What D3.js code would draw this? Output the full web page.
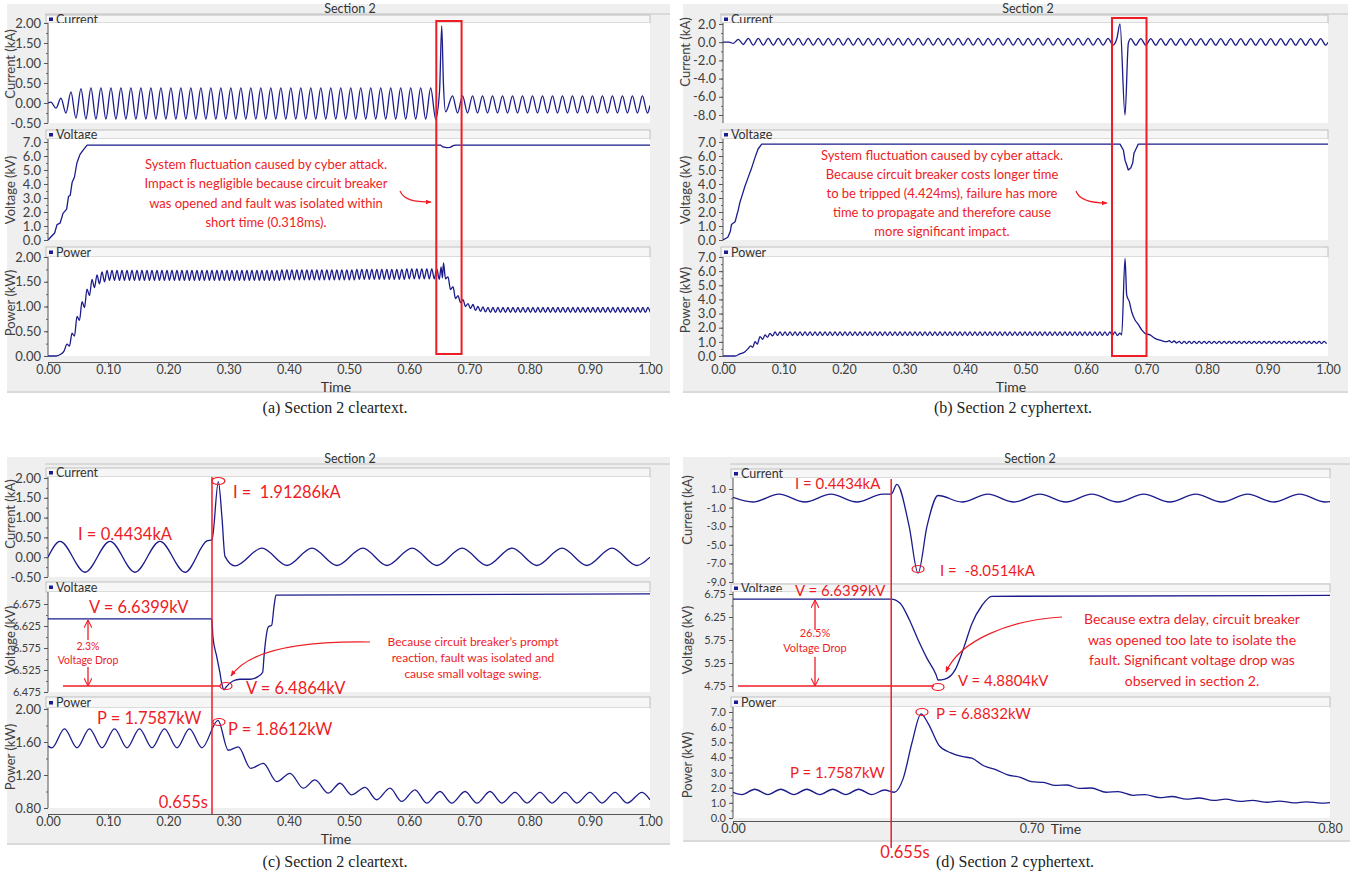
<!DOCTYPE html>
<html>
<head>
<meta charset="utf-8">
<script src="https://cdn.jsdelivr.net/npm/d3@7"></script>
<style>
body { margin: 0; background: #fff; }
text { font-family: Lato, 'Open Sans', sans-serif; white-space: pre; }
</style>
</head>
<body>
<script>
// ---------- data ----------
// (a) cleartext, time in s. Grid parts: [start, half-cycle step]
const aCurPreGrid = [0.0049, 0.0083];
const aCurPre = [0.02,-0.13,0.12,-0.25,0.28,-0.38,0.36,
  -0.40,0.38,-0.40,0.38,-0.40,0.38,-0.40,0.38,-0.40,0.38,
  -0.40,0.38,-0.40,0.38,-0.40,0.38,-0.40,0.38,-0.40,0.38,
  -0.40,0.38,-0.40,0.38,-0.40,0.38,-0.40,0.38,-0.40,0.38,
  -0.40,0.38,-0.40,0.38,-0.40,0.38,-0.40,0.38,-0.40,0.38,
  -0.40,0.38,-0.40,0.38,-0.40,0.38,-0.40,0.38,-0.40,0.38,
  -0.40,0.38,-0.40,0.38,-0.40,0.38,-0.40,0.38,-0.40,0.38,
  -0.40,0.38,-0.40,0.38,-0.40,0.38,-0.40,0.38,-0.40,0.38,
  -0.40];
const aCurFault = [[0.6505,0.32],[0.6540,1.93],[0.6568,0.50],[0.6605,-0.22]];
const aCurPostGrid = [0.6720, 0.0083];
const aCurPost = [
  0.18,-0.25,0.18,-0.25,0.18,-0.25,0.18,-0.25,0.18,-0.25,
  0.18,-0.25,0.18,-0.25,0.18,-0.25,0.18,-0.25,0.18,-0.25,
  0.18,-0.25,0.18,-0.25,0.18,-0.25,0.18,-0.25,0.18,-0.25,
  0.18,-0.25,0.18,-0.25,0.18,-0.25,0.18,-0.25,0.18,-0.25];
const aCurEnds = [[0, 0], [1.0, -0.06]];

const aVolt = [[0,0],[0.011,0.5],[0.015,1.1],[0.020,1.2],[0.025,1.9],[0.031,2.2],[0.034,3.1],
  [0.037,3.2],[0.040,4.1],[0.044,4.5],[0.048,5.5],[0.053,6.1],[0.058,6.4],[0.065,6.78],
  [0.652,6.78],[0.656,6.65],[0.662,6.60],[0.668,6.62],[0.673,6.74],[0.677,6.78],[1.0,6.78]];

const aPowRise = [[0,0],[0.0133,0.00],[0.0216,0.04],[0.0266,0.10],[0.0316,0.24],[0.0357,0.20],
  [0.0399,0.46],[0.0440,0.40],[0.0482,0.80],[0.0523,0.72],[0.0565,1.10],[0.0606,0.98],
  [0.0648,1.35],[0.0689,1.22],[0.0731,1.55],[0.0772,1.38],[0.0814,1.64],[0.0855,1.46],
  [0.0897,1.70],[0.0939,1.50]];
const aPowPreGrid = [0.0980, 0.00415];
const aPowPre = [
  1.73,1.53,1.73,1.53,1.73,1.53,1.73,1.53,1.73,1.53,
  1.73,1.53,1.73,1.53,1.73,1.53,1.73,1.53,1.73,1.53,
  1.73,1.53,1.73,1.53,1.73,1.53,1.73,1.53,1.73,1.53,
  1.73,1.53,1.73,1.53,1.73,1.53,1.73,1.53,1.73,1.53,
  1.73,1.53,1.73,1.53,1.73,1.53,1.73,1.53,1.73,1.53,
  1.73,1.53,1.73,1.53,1.73,1.53,1.73,1.53,1.73,1.53,
  1.73,1.53,1.73,1.53,1.73,1.53,1.73,1.53,1.73,1.53,
  1.74,1.54,1.74,1.54,1.74,1.54,1.74,1.54,1.74,1.54,
  1.74,1.54,1.74,1.54,1.74,1.54,1.74,1.54,1.74,1.54,
  1.74,1.54,1.74,1.54,1.74,1.54,1.74,1.54,1.74,1.54,
  1.75,1.55,1.75,1.55,1.75,1.55,1.75,1.55,1.75,1.55,
  1.75,1.55,1.75,1.55,1.75,1.55,1.75,1.55,1.75,1.55,
  1.76,1.56,1.76,1.56,1.76,1.56,1.76,1.56,1.76,1.56,
  1.76,1.56,1.76];
const aPowFault = [[0.6500,1.55],[0.6530,1.80],[0.6552,1.58],[0.6570,1.88],[0.6603,1.56],
  [0.6645,1.60],[0.6686,1.34],[0.6728,1.40],[0.6769,1.16],[0.6811,1.22],[0.6852,1.08],
  [0.6894,1.14],[0.6935,1.00],[0.6977,1.06]];
const aPowPostGrid = [0.7018, 0.00415];
const aPowPost = [0.96,1.04,0.92,1.00,0.90,0.99,0.89,
  0.98,0.88,0.98,0.88,0.98,0.88,0.98,0.88,0.98,0.88,
  0.98,0.88,0.98,0.88,0.98,0.88,0.98,0.88,0.98,0.88,
  0.98,0.88,0.98,0.88,0.98,0.88,0.98,0.88,0.98,0.88,
  0.98,0.88,0.98,0.88,0.98,0.88,0.98,0.88,0.98,0.88,
  0.98,0.88,0.98,0.88,0.98,0.88,0.98,0.88,0.98,0.88,
  0.98,0.88,0.98,0.88,0.98,0.88,0.98,0.88,0.98,0.88,
  0.98,0.88,0.98,0.88,0.98,0.88];

// (b) cyphertext
const bCurHead = [[0,0],[0.010,0.0]];
const bCurPreGrid = [0.0170, 0.00826];
const bCurPre = [-0.12,0.30,-0.25,0.42,
  -0.32,0.42,-0.32,0.42,-0.32,0.42,-0.32,0.42,-0.32,0.42,
  -0.32,0.42,-0.32,0.42,-0.32,0.42,-0.32,0.42,-0.32,0.42,
  -0.32,0.42,-0.32,0.42,-0.32,0.42,-0.32,0.42,-0.32,0.42,
  -0.32,0.42,-0.32,0.42,-0.32,0.42,-0.32,0.42,-0.32,0.42,
  -0.32,0.42,-0.32,0.42,-0.32,0.42,-0.32,0.42,-0.32,0.42,
  -0.32,0.42,-0.32,0.42,-0.32,0.42,-0.32,0.42,-0.32,0.42,
  -0.32,0.42,-0.32,0.42,-0.32,0.42,-0.32,0.42,-0.32,0.42,
  -0.32,0.42,
  -0.32];
const bCurFault = [[0.6510,0.40],[0.6562,2.0],[0.6645,-8.0],[0.6700,-0.1]];
const bCurPostGrid = [0.6740, 0.00826];
const bCurPost = [
  0.40,-0.32,0.40,-0.32,0.40,-0.32,0.40,-0.32,0.40,-0.32,
  0.40,-0.32,0.40,-0.32,0.40,-0.32,0.40,-0.32,0.40,-0.32,
  0.40,-0.32,0.40,-0.32,0.40,-0.32,0.40,-0.32,0.40,-0.32,
  0.40,-0.32,0.40,-0.32,0.40,-0.32,0.40,-0.32,0.40,-0.32];
const bCurTail = [[1.0, 0.0]];

const bVolt = [[0,0],[0.008,0.2],[0.012,0.6],[0.014,1.1],[0.020,1.3],[0.023,1.8],[0.025,2.1],
  [0.028,2.7],[0.031,3.1],[0.036,3.8],[0.041,4.4],[0.047,5.1],[0.053,5.9],[0.058,6.5],
  [0.064,6.85],[0.6562,6.85],[0.6617,6.43],[0.6645,5.7],[0.6673,5.36],[0.6699,5.0],
  [0.6739,5.14],[0.6772,5.5],[0.6793,6.2],[0.6826,6.5],[0.6864,6.85],[1.0,6.85]];

const bPowRise = [[0,0],[0.0198,0.0],[0.0281,0.15],[0.0364,0.30],[0.0418,0.54],[0.0458,0.71],
  [0.0491,0.61],[0.0529,1.01],[0.0567,0.85],[0.0612,1.37],[0.0656,1.18],[0.0694,1.49],
  [0.0736,1.32],[0.0777,1.60],[0.0818,1.42]];
const bPowPreGrid = [0.0860, 0.00413];
const bPowPre = [
  1.70,1.45,1.70,1.45,1.70,1.45,1.70,1.45,1.70,1.45,
  1.70,1.45,1.70,1.45,1.70,1.45,1.70,1.45,1.70,1.45,
  1.70,1.45,1.70,1.45,1.70,1.45,1.70,1.45,1.70,1.45,
  1.70,1.45,1.70,1.45,1.70,1.45,1.70,1.45,1.70,1.45,
  1.70,1.45,1.70,1.45,1.70,1.45,1.70,1.45,1.70,1.45,
  1.70,1.45,1.70,1.45,1.70,1.45,1.70,1.45,1.70,1.45,
  1.70,1.45,1.70,1.45,1.70,1.45,1.70,1.45,1.70,1.45,
  1.70,1.45,1.70,1.45,1.70,1.45,1.70,1.45,1.70,1.45,
  1.70,1.45,1.70,1.45,1.70,1.45,1.70,1.45,1.70,1.45,
  1.70,1.45,1.70,1.45,1.70,1.45,1.70,1.45,1.70,1.45,
  1.70,1.45,1.70,1.45,1.70,1.45,1.70,1.45,1.70,1.45,
  1.70,1.45,1.70,1.45,1.70,1.45,1.70,1.45,1.70,1.45,
  1.70,1.45,1.70,1.45,1.70,1.45,1.70,1.45,1.70,1.45,
  1.70,1.45,1.70,1.45,1.70,1.45,1.70,1.45];
const bPowFault = [[0.6560,1.62],[0.6590,1.50],[0.6645,6.90],[0.6673,4.30],[0.6716,3.84],
  [0.6755,3.13],[0.6810,2.55],[0.6864,2.24],[0.6921,1.84],[0.6975,1.60],[0.7058,1.49],
  [0.7140,1.25],[0.7240,1.10],[0.7333,1.01]];
const bPowPostGrid = [0.7375, 0.00413];
const bPowPost = [1.08,0.95,1.06,0.92,
  1.04,0.88,1.04,0.88,1.04,0.88,1.04,0.88,1.04,0.88,
  1.04,0.88,1.04,0.88,1.04,0.88,1.04,0.88,1.04,0.88,
  1.04,0.88,1.04,0.88,1.04,0.88,1.04,0.88,1.04,0.88,
  1.04,0.88,1.04,0.88,1.04,0.88,1.04,0.88,1.04,0.88,
  1.04,0.88,1.04,0.88,1.04,0.88,1.04,0.88,1.04,0.88,
  1.04,0.88,1.04,0.88,1.04,0.88,1.04,0.88,1.04,0.88];

// (c) cleartext zoom, x in axis units
const cCur = [[0,0.0],[0.0199,0.40],[0.0615,-0.38],[0.103,0.40],[0.1445,-0.38],[0.186,0.40],
  [0.2276,-0.38],[0.264,0.41],[0.2724,0.44],[0.283,1.91],[0.289,1.0],[0.294,0.02],
  [0.3106,-0.22],[0.3555,0.23],[0.397,-0.21],[0.4385,0.23],[0.480,-0.21],[0.523,0.23],
  [0.563,-0.21],[0.605,0.23],[0.646,-0.21],[0.688,0.23],[0.729,-0.21],[0.771,0.23],
  [0.812,-0.21],[0.854,0.23],[0.895,-0.21],[0.937,0.23],[0.978,-0.21],[1.0,0.0]];
const cVolt = [[0,6.641],[0.272,6.641],[0.274,6.60],[0.2802,6.556],[0.2857,6.518],[0.2885,6.495],
  [0.2924,6.48],[0.2957,6.486],[0.3073,6.50],[0.3189,6.504],[0.3355,6.504],[0.3488,6.51],
  [0.3566,6.52],[0.3588,6.555],[0.3616,6.593],[0.3660,6.623],[0.3716,6.627],[0.3754,6.669],
  [0.3787,6.695],[1.0,6.698]];
const cPow = [[0,1.55],[0.0066,1.53],[0.0274,1.76],[0.0482,1.53],[0.0689,1.76],[0.0897,1.53],
  [0.1105,1.76],[0.1312,1.53],[0.152,1.76],[0.1728,1.53],[0.1935,1.76],[0.2143,1.53],
  [0.2350,1.76],[0.2558,1.53],[0.2824,1.861],[0.2995,1.50],[0.3161,1.54],[0.3367,1.28],
  [0.3576,1.34],[0.3799,1.12],[0.4020,1.22],[0.4241,1.04],[0.4435,1.14],[0.4656,0.98],
  [0.4850,1.10],[0.5045,0.96],[0.5266,1.05],[0.5460,0.90],[0.5681,1.04],[0.5875,0.88],
  [0.6096,1.02],[0.6291,0.86],[0.6512,1.00],[0.6706,0.86],[0.6927,1.00],[0.7126,0.86],
  [0.7342,1.00],[0.7542,0.86],[0.7757,0.99],[0.7957,0.86],[0.8173,0.99],[0.8372,0.86],
  [0.8588,0.99],[0.8787,0.86],[0.9003,0.99],[0.9203,0.86],[0.9419,0.99],[0.9618,0.86],
  [0.9867,0.99],[1.0,0.90]];

// (d) cyphertext zoom, time in s
const dCur = [[0.600,0.10],[0.6067,-0.40],[0.6154,0.44],[0.6241,-0.40],[0.6328,0.44],
  [0.6415,-0.40],[0.6502,0.44],[0.6530,0.44],[0.6549,1.50],[0.6590,-3.0],[0.6620,-8.05],
  [0.6650,-3.0],[0.6687,0.30],[0.6767,-0.40],[0.6854,0.44],[0.6941,-0.40],[0.7028,0.44],
  [0.7115,-0.40],[0.7202,0.44],[0.7289,-0.40],[0.7376,0.44],[0.7463,-0.40],[0.7550,0.44],
  [0.7637,-0.40],[0.7724,0.44],[0.7811,-0.40],[0.7898,0.44],[0.7985,-0.40],[0.8000,-0.35]];
const dVolt = [[0.600,6.64],[0.653,6.64],[0.6560,6.55],[0.6590,6.2],[0.6617,5.8],[0.6650,5.35],
  [0.6680,5.0],[0.6687,4.88],[0.6710,4.9],[0.6744,5.1],[0.6774,5.6],[0.6800,6.1],
  [0.6834,6.5],[0.6867,6.70],[0.800,6.72]];
const dPow = [[0.600,1.70],[0.6030,1.55],[0.6073,1.90],[0.6117,1.55],[0.6160,1.90],
  [0.6204,1.55],[0.6247,1.90],[0.6291,1.55],[0.6334,1.90],[0.6378,1.55],[0.6421,1.90],
  [0.6465,1.55],[0.6508,1.85],[0.6540,1.70],[0.6570,2.6],[0.6600,5.0],[0.6630,6.88],
  [0.6655,6.2],[0.6690,4.8],[0.6730,4.3],[0.6770,4.05],[0.6800,3.95],[0.6840,3.45],
  [0.6880,3.20],[0.6920,2.85],[0.6960,2.70],[0.7000,2.40],[0.7040,2.35],[0.7080,2.15],
  [0.7120,2.18],[0.7160,1.95],[0.7200,1.98],[0.7250,1.70],[0.7290,1.74],[0.7340,1.50],
  [0.7380,1.55],[0.7430,1.35],[0.7470,1.42],[0.7520,1.25],[0.7560,1.32],[0.7610,1.16],
  [0.7650,1.24],[0.7700,1.10],[0.7740,1.17],[0.7790,1.04],[0.7830,1.12],[0.7880,1.00],
  [0.7920,1.07],[0.7970,0.98],[0.8000,1.02]];

// ticks
const xTicks01 = [0,0.1,0.2,0.3,0.4,0.5,0.6,0.7,0.8,0.9,1.0];
const dXTicks = [0.60, 0.70, 0.80];
const dXLabels = ['0.00', '0.70', '0.80'];
const curTicksA = [-0.5,0,0.5,1,1.5,2];
const voltTicksAB = [0,1,2,3,4,5,6,7];
const powTicksA = [0,0.5,1,1.5,2];
const curTicksB = [-8,-6,-4,-2,0,2];
const powTicksB = [0,1,2,3,4,5,6,7];
const voltTicksC = [6.475,6.525,6.575,6.625,6.675];
const powTicksC = [0.8,1.2,1.6,2.0];
const curTicksD = [-9,-7,-5,-3,-1,1];
const voltTicksD = [4.75,5.25,5.75,6.25,6.75];
const powTicksD = [0,1,2,3,4,5,6,7];

// ---------- helpers ----------
const grid = (g, vals) => vals.map((v, i) => [g[0] + i * g[1], v]);
const navy = '#1b1b8c', red = '#ee1c25', grey = '#404040';
const fmt = f => v => d3.format(f)(v).replace('\u2212', '-');

const aCurrent = [aCurEnds[0]].concat(grid(aCurPreGrid, aCurPre), aCurFault, grid(aCurPostGrid, aCurPost), [aCurEnds[1]]);
const aPower = aPowRise.concat(grid(aPowPreGrid, aPowPre), aPowFault, grid(aPowPostGrid, aPowPost));
const bCurrent = bCurHead.concat(grid(bCurPreGrid, bCurPre), bCurFault, grid(bCurPostGrid, bCurPost), bCurTail);
const bPower = bPowRise.concat(grid(bPowPreGrid, bPowPre), bPowFault, grid(bPowPostGrid, bPowPost));

const svg = d3.select('body').append('svg').attr('width', 1356).attr('height', 878);
svg.append('rect').attr('width', 1356).attr('height', 878).attr('fill', '#fff');
const defs = svg.append('defs');
defs.append('marker').attr('id', 'arrowFill').attr('viewBox', '0 0 10 10')
    .attr('refX', 9).attr('refY', 5).attr('markerWidth', 5).attr('markerHeight', 5)
    .attr('orient', 'auto')
  .append('path').attr('d', 'M0,1 L10,5 L0,9 z').attr('fill', red);
defs.append('marker').attr('id', 'arrowOpen').attr('viewBox', '0 0 10 10')
    .attr('refX', 10).attr('refY', 5).attr('markerWidth', 8).attr('markerHeight', 8)
    .attr('markerUnits', 'userSpaceOnUse').attr('orient', 'auto')
  .append('path').attr('d', 'M0,0 L10,5 L0,10').attr('fill', 'none')
    .attr('stroke', red).attr('stroke-width', 1.3);

const panels = [
  { id: 'a', box: [7, 4, 670, 393], titleX: 350, titleY: 14, x0: 48, x1: 650, xDomain: [0, 1],
    xTicks: xTicks01, xLabels: null, axisY: 362, timeX: 336, timeY: 392, yTitleX: 15,
    subs: [
      { name: 'Current', title: 'Current (kA)', head: 15, top: 23, bottom: 123, domain: [-0.5, 2], range: [123, 23], ticks: curTicksA, minor: 0.25, f: '.2f', fs: 13, titleY: 64, data: aCurrent, curve: d3.curveMonotoneX },
      { name: 'Voltage', title: 'Voltage (kV)', head: 130, top: 139, bottom: 240, domain: [0, 7], range: [240, 142], ticks: voltTicksAB, minor: 0.5, f: '.1f', fs: 13, titleY: 190, data: aVolt, curve: d3.curveLinear },
      { name: 'Power', title: 'Power (kW)', head: 247, top: 257, bottom: 356, domain: [0, 2], range: [356, 257], ticks: powTicksA, minor: 0.25, f: '.2f', fs: 13, titleY: 303, data: aPower, curve: d3.curveMonotoneX }
    ] },
  { id: 'b', box: [683, 4, 1348, 393], titleX: 1028, titleY: 14, x0: 723, x1: 1328, xDomain: [0, 1],
    xTicks: xTicks01, xLabels: null, axisY: 362, timeX: 1011, timeY: 392, yTitleX: 690,
    subs: [
      { name: 'Current', title: 'Current (kA)', head: 15, top: 23, bottom: 123, domain: [-8, 2], range: [115, 24], ticks: curTicksB, minor: 1, f: '.1f', fs: 13, titleY: 52, data: bCurrent, curve: d3.curveMonotoneX },
      { name: 'Voltage', title: 'Voltage (kV)', head: 130, top: 139, bottom: 240, domain: [0, 7], range: [240, 142], ticks: voltTicksAB, minor: 0.5, f: '.1f', fs: 13, titleY: 190, data: bVolt, curve: d3.curveLinear },
      { name: 'Power', title: 'Power (kW)', head: 247, top: 257, bottom: 356, domain: [0, 7], range: [356, 257], ticks: powTicksB, minor: 0.5, f: '.1f', fs: 13, titleY: 300, data: bPower, curve: d3.curveMonotoneX }
    ] },
  { id: 'c', box: [7, 457, 670, 845], titleX: 350, titleY: 464, x0: 48, x1: 650, xDomain: [0, 1],
    xTicks: xTicks01, xLabels: null, axisY: 814, timeX: 336, timeY: 844, yTitleX: 15,
    subs: [
      { name: 'Current', title: 'Current (kA)', head: 468, top: 477, bottom: 577, domain: [-0.5, 2], range: [577, 478], ticks: curTicksA, minor: 0.25, f: '.2f', fs: 13, titleY: 514, data: cCur, curve: d3.curveMonotoneX },
      { name: 'Voltage', title: 'Voltage (kV)', head: 582, top: 592, bottom: 692, domain: [6.475, 6.675], range: [692, 604], ticks: voltTicksC, minor: 0.025, f: '.3f', fs: 11, titleY: 640, data: cVolt, curve: d3.curveMonotoneX },
      { name: 'Power', title: 'Power (kW)', head: 697, top: 708, bottom: 808, domain: [0.8, 2.0], range: [808, 709], ticks: powTicksC, minor: 0.2, f: '.2f', fs: 13, titleY: 757, data: cPow, curve: d3.curveMonotoneX }
    ] },
  { id: 'd', box: [683, 457, 1350, 842], titleX: 1030, titleY: 464, x0: 733, x1: 1330, xDomain: [0.60, 0.80],
    xTicks: dXTicks, xLabels: dXLabels, axisY: 821, timeX: 1066, timeY: 834, yTitleX: 692,
    subs: [
      { name: 'Current', title: 'Current (kA)', head: 469, top: 478, bottom: 583, domain: [-9, 1], range: [582, 489], ticks: curTicksD, minor: 1, f: '.1f', fs: 11, titleY: 510, data: dCur, curve: d3.curveMonotoneX },
      { name: 'Voltage', title: 'Voltage (kV)', head: 584, top: 592, bottom: 692, domain: [4.75, 6.75], range: [686, 594], ticks: voltTicksD, minor: 0.25, f: '.2f', fs: 11, titleY: 640, data: dVolt, curve: d3.curveMonotoneX },
      { name: 'Power', title: 'Power (kW)', head: 697, top: 707, bottom: 818, domain: [0, 7], range: [818, 712], ticks: powTicksD, minor: 0.5, f: '.1f', fs: 11, titleY: 765, data: dPow, curve: d3.curveMonotoneX }
    ] }
];

const scales = {};

panels.forEach(p => {
  const g = svg.append('g').attr('id', 'panel-' + p.id);
  g.append('rect').attr('x', p.box[0]).attr('y', p.box[1])
    .attr('width', p.box[2] - p.box[0]).attr('height', p.box[3] - p.box[1])
    .attr('fill', '#efefef');
  g.append('line').attr('x1', p.x0 - 3).attr('x2', p.box[2]).attr('y1', p.titleY).attr('y2', p.titleY)
    .attr('stroke', '#c4c4c4');
  g.append('line').attr('x1', p.box[0]).attr('x2', p.box[2]).attr('y1', p.box[3] - 1).attr('y2', p.box[3] - 1)
    .attr('stroke', '#c4c4c4');
  g.append('text').attr('x', p.titleX).attr('y', p.titleY - 1).attr('text-anchor', 'middle')
    .attr('font-size', 12.5).attr('fill', '#333').text('Section 2');

  const x = d3.scaleLinear().domain(p.xDomain).range([p.x0, p.x1]);
  scales[p.id] = { x: x, y: [] };

  p.subs.forEach((s, i) => {
    const y = d3.scaleLinear().domain(s.domain).range(s.range);
    scales[p.id].y.push(y);
    // header bar
    g.append('rect').attr('x', p.x0 - 2).attr('y', s.head).attr('width', p.x1 - p.x0 + 2)
      .attr('height', s.top - s.head).attr('fill', '#f6f6f6').attr('stroke', '#b5b5b5').attr('stroke-width', 0.8);
    g.append('rect').attr('x', p.x0 + 1).attr('y', (s.head + s.top) / 2 - 1.5).attr('width', 4).attr('height', 3.5)
      .attr('fill', navy);
    g.append('text').attr('x', p.x0 + 8).attr('y', (s.head + s.top) / 2 + 4.5)
      .attr('font-size', 12.5).attr('fill', '#333').text(s.name);
    // plot area
    g.append('rect').attr('x', p.x0).attr('y', s.top).attr('width', p.x1 - p.x0)
      .attr('height', s.bottom - s.top).attr('fill', '#fff');
    g.append('line').attr('x1', p.x0).attr('x2', p.x0).attr('y1', s.top).attr('y2', s.bottom)
      .attr('stroke', '#555').attr('stroke-width', 1);

    const minorVals = d3.range(s.domain[0], s.domain[1] + 1e-9, s.minor);
    g.append('g').attr('transform', `translate(${p.x0},0)`)
      .call(d3.axisLeft(y).tickValues(minorVals).tickSize(2).tickFormat(''))
      .call(a => a.select('.domain').remove())
      .selectAll('line').attr('stroke', '#666');
    const ax = g.append('g').attr('transform', `translate(${p.x0},0)`)
      .call(d3.axisLeft(y).tickValues(s.ticks).tickSize(4).tickPadding(3).tickFormat(fmt(s.f)))
      .call(a => a.select('.domain').remove());
    ax.selectAll('line').attr('stroke', '#555');
    ax.selectAll('text').attr('font-family', 'Lato, sans-serif').attr('font-size', s.fs).attr('fill', grey);

    g.append('text').attr('transform', `translate(${p.yTitleX},${s.titleY}) rotate(-90)`)
      .attr('text-anchor', 'middle').attr('font-size', 13).attr('fill', grey).text(s.title);

    const clipId = `clip-${p.id}-${i}`;
    defs.append('clipPath').attr('id', clipId).append('rect')
      .attr('x', p.x0).attr('y', s.head).attr('width', p.x1 - p.x0).attr('height', s.bottom - s.head + 1);
    const line = d3.line().x(d => x(d[0])).y(d => y(d[1])).curve(s.curve);
    g.append('path').datum(s.data).attr('clip-path', `url(#${clipId})`)
      .attr('d', line).attr('fill', 'none').attr('stroke', navy).attr('stroke-width', 1.3)
      .attr('stroke-linejoin', 'round');
  });

  // x axis
  const xAx = d3.axisBottom(x).tickValues(p.xTicks).tickSizeInner(3).tickSizeOuter(0).tickPadding(0)
    .tickFormat((d, i) => p.xLabels ? p.xLabels[i] : d3.format('.2f')(d));
  const xg = g.append('g').attr('transform', `translate(0,${p.axisY})`).call(xAx);
  xg.select('.domain').attr('stroke', '#555');
  xg.selectAll('line').attr('stroke', '#555');
  xg.selectAll('text').attr('font-family', 'Lato, sans-serif').attr('font-size', 12.5).attr('fill', grey);
  g.append('text').attr('x', p.timeX).attr('y', p.timeY).attr('text-anchor', 'middle')
    .attr('font-size', 14).attr('fill', '#333').text('Time');
});

// ---------- annotations ----------
const ann = svg.append('g').attr('fill', red);
function txt(x, y, s, size, anchor) {
  ann.append('text').attr('x', x).attr('y', y).attr('font-size', size)
    .attr('text-anchor', anchor || 'start').attr('fill', red).text(s);
}
function ell(cx, cy, rx, ry) {
  ann.append('ellipse').attr('cx', cx).attr('cy', cy).attr('rx', rx).attr('ry', ry)
    .attr('fill', 'none').attr('stroke', red).attr('stroke-width', 1.2);
}
function seg(x1, y1, x2, y2, marker, w) {
  const l = ann.append('line').attr('x1', x1).attr('y1', y1).attr('x2', x2).attr('y2', y2)
    .attr('stroke', red).attr('stroke-width', w || 1.3);
  if (marker) l.attr('marker-end', `url(#${marker})`);
}
function curve(d) {
  ann.append('path').attr('d', d).attr('fill', 'none').attr('stroke', red).attr('stroke-width', 1.2)
    .attr('marker-end', 'url(#arrowFill)');
}

// (a)
const sa = scales.a;
ann.append('rect').attr('x', sa.x(0.645)).attr('y', 21).attr('width', sa.x(0.687) - sa.x(0.645)).attr('height', 333)
  .attr('fill', 'none').attr('stroke', red).attr('stroke-width', 2);
['System fluctuation caused by cyber attack.', 'Impact is negligible because circuit breaker',
 'was opened and fault was isolated within', 'short time (0.318ms).']
  .forEach((s, i) => txt(266, 169 + i * 19.3, s, 13, 'middle'));
curve('M400,191 C404,200 414,202 431,202');

// (b)
const sb = scales.b;
ann.append('rect').attr('x', sb.x(0.643)).attr('y', 18).attr('width', sb.x(0.700) - sb.x(0.643)).attr('height', 338)
  .attr('fill', 'none').attr('stroke', red).attr('stroke-width', 2);
['System fluctuation caused by cyber attack.', 'Because circuit breaker costs longer time',
 'to be tripped (4.424ms), failure has more', 'time to propagate and therefore cause',
 'more significant impact.']
  .forEach((s, i) => txt(942, 160 + i * 19, s, 13, 'middle'));
curve('M1076,191 C1079,200 1090,203 1107,203');

// (c)
const sc = scales.c;
const cLineX = sc.x(0.2724);
seg(cLineX, 477, cLineX, 814, null, 1.5);
ell(sc.x(0.283), 481, 6.5, 3.5);
txt(78, 540, 'I = 0.4434kA', 16.5);
txt(233, 498, 'I =  1.91286kA', 16.5);
txt(89, 613, 'V = 6.6399kV', 16.5);
seg(88, 640, 88, 620, 'arrowOpen');
txt(88, 650, '2.3%', 10.5, 'middle');
txt(88, 664, 'Voltage Drop', 10.5, 'middle');
seg(88, 667, 88, 686, 'arrowOpen');
seg(63, 686, 220, 686, null, 1.5);
ell(226, 686, 6, 3.5);
txt(246, 694, 'V = 6.4864kV', 16.5);
['Because circuit breaker\u2019s prompt', 'reaction, fault was isolated and', 'cause small voltage swing.']
  .forEach((s, i) => txt(473, 646 + i * 16, s, 12, 'middle'));
curve('M370,642 C310,641 250,648 231,676');
txt(97, 724, 'P = 1.7587kW', 16.5);
ell(219, 722, 6, 3.5);
txt(228, 735, 'P = 1.8612kW', 16.5);
txt(208, 808, '0.655s', 16.5, 'end');

// (d)
const sd = scales.d;
const dLineX = sd.x(0.653);
seg(dLineX, 479, dLineX, 848, null, 1.5);
txt(795, 489, 'I = 0.4434kA', 15);
txt(940, 576, 'I =  -8.0514kA', 15);
ell(sd.x(0.662), 569, 6, 3.5);
txt(795, 596, 'V = 6.6399kV', 15);
seg(815, 630, 815, 600, 'arrowOpen');
txt(815, 637, '26.5%', 11, 'middle');
txt(815, 652, 'Voltage Drop', 11, 'middle');
seg(815, 657, 815, 686, 'arrowOpen');
seg(738, 686, 934, 686, null, 1.5);
ell(938, 687, 6, 3.5);
txt(958, 686, 'V = 4.8804kV', 15);
['Because extra delay, circuit breaker', 'was opened too late to isolate the',
 'fault. Significant voltage drop was', 'observed in section 2.']
  .forEach((s, i) => txt(1192, 624 + i * 20.5, s, 14, 'middle'));
curve('M1062,617 C1010,620 960,640 946,672');
txt(936, 719, 'P = 6.8832kW', 15);
ell(922, 712, 6, 3.5);
txt(790, 778, 'P = 1.7587kW', 15);
txt(905, 858, '0.655s', 16.5, 'middle');

// captions
const cap = svg.append('g').attr('font-size', 16).attr('fill', '#222');
[['(a) Section 2 cleartext.', 335, 413], ['(b) Section 2 cyphertext.', 1013, 413],
 ['(c) Section 2 cleartext.', 335, 867], ['(d) Section 2 cyphertext.', 1015, 867]]
  .forEach(c => cap.append('text').attr('x', c[1]).attr('y', c[2]).attr('text-anchor', 'middle')
    .style('font-family', "'Liberation Serif', serif").text(c[0]));
</script>
</body>
</html>
